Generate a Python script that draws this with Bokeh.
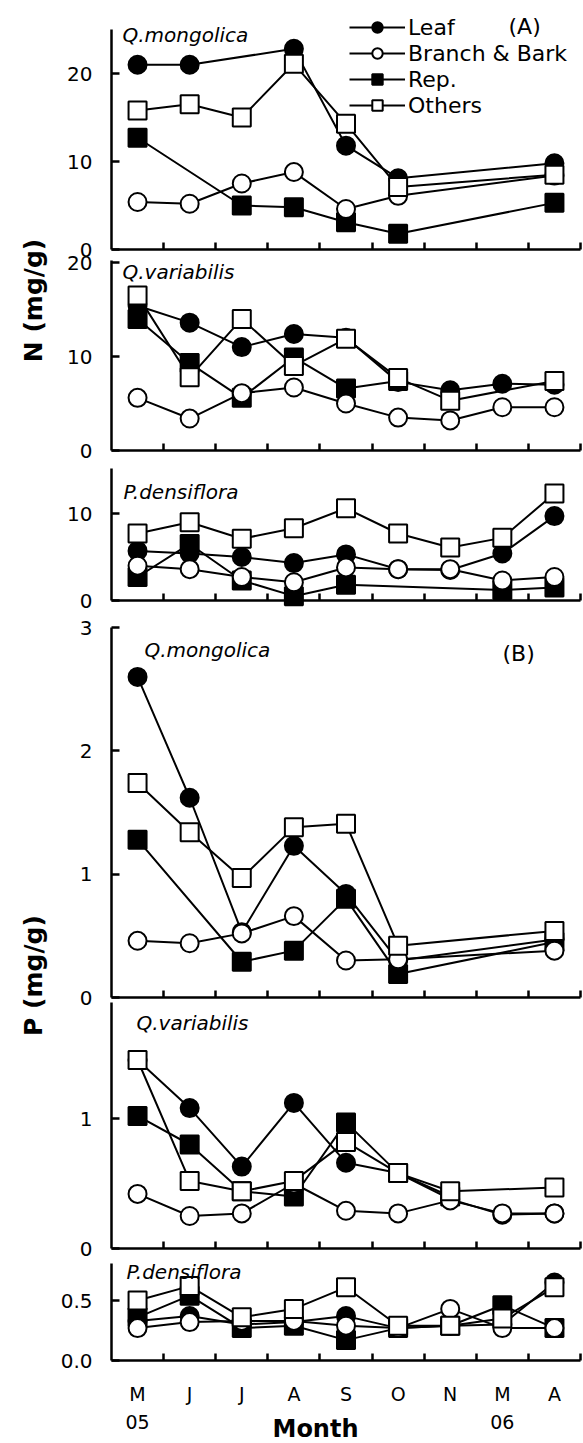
import math
from bokeh.plotting import figure
from bokeh.models import (Range1d, FixedTicker, Label, Legend, LegendItem,
                          NumeralTickFormatter, LinearAxis)
from bokeh.embed import file_html
from bokeh.resources import INLINE

# ---------------- data ----------------
months = ["M", "J", "J", "A", "S", "O", "N", "M", "A"]
years = {0: "05", 7: "06"}
series_names = ["Leaf", "Branch & Bark", "Rep.", "Others"]

# N (mg/g)
n_mong_leaf = [21.0, 21.0, None, 22.8, 11.8, 8.1, None, None, 9.8]
n_mong_branch = [5.4, 5.2, 7.5, 8.8, 4.6, 6.1, None, None, 8.4]
n_mong_rep = [12.7, None, 5.0, 4.8, 3.1, 1.8, None, None, 5.3]
n_mong_others = [15.8, 16.5, 15.0, 21.1, 14.3, 7.1, None, None, 8.5]

n_var_leaf = [15.4, 13.6, 11.0, 12.4, 12.0, 7.3, 6.4, 7.1, 7.0]
n_var_branch = [5.6, 3.4, 6.1, 6.7, 5.0, 3.5, 3.2, 4.6, 4.6]
n_var_rep = [14.0, 9.3, 5.6, 9.9, 6.6, 7.4, None, None, None]
n_var_others = [16.5, 7.8, 14.0, 9.0, 11.9, 7.7, 5.3, None, 7.4]

n_dens_leaf = [5.7, 5.4, 5.0, 4.3, 5.3, 3.6, 3.5, 5.4, 9.7]
n_dens_branch = [4.0, 3.6, 2.7, 2.1, 3.8, 3.6, 3.6, 2.3, 2.7]
n_dens_rep = [2.7, 6.5, 2.3, 0.5, 1.8, None, None, 1.2, 1.5]
n_dens_others = [7.7, 9.0, 7.1, 8.3, 10.6, 7.7, 6.1, 7.2, 12.3]

# P (mg/g)
p_mong_leaf = [2.60, 1.62, 0.53, 1.23, 0.84, 0.30, None, None, 0.47]
p_mong_branch = [0.46, 0.44, 0.52, 0.66, 0.30, 0.31, None, None, 0.38]
p_mong_rep = [1.28, None, 0.29, 0.38, 0.80, 0.19, None, None, 0.45]
p_mong_others = [1.74, 1.34, 0.97, 1.38, 1.41, 0.42, None, None, 0.54]

p_var_leaf = [1.45, 1.08, 0.63, 1.12, 0.66, 0.58, 0.38, 0.26, 0.27]
p_var_branch = [0.42, 0.25, 0.27, 0.50, 0.29, 0.27, 0.37, 0.27, 0.27]
p_var_rep = [1.02, 0.80, 0.44, 0.40, 0.97, 0.58, 0.40, None, None]
p_var_others = [1.45, 0.52, 0.44, 0.52, 0.82, 0.58, 0.44, None, 0.47]

p_dens_leaf = [0.33, 0.37, 0.30, 0.32, 0.37, 0.27, 0.29, 0.30, 0.65]
p_dens_branch = [0.27, 0.32, 0.33, 0.33, 0.29, 0.27, 0.43, 0.27, 0.27]
p_dens_rep = [0.36, 0.54, 0.27, 0.29, 0.17, 0.27, 0.29, 0.46, 0.27]
p_dens_others = [0.50, 0.62, 0.36, 0.43, 0.61, 0.29, 0.29, 0.35, 0.61]

# ---------------- styling / layout ----------------
FONT = "DejaVu Sans"
STYLE = {
    "Leaf": ("circle", "black"),
    "Branch & Bark": ("circle", "white"),
    "Rep.": ("square", "black"),
    "Others": ("square", "white"),
}
DRAW_ORDER = ["Leaf", "Rep.", "Branch & Bark", "Others"]

W, H = 583, 1443
AXIS_PX, RIGHT_PX = 111, 580           # page x of the y axes and of the x-axis end
X0, X1 = -0.5, 8.5
PPX = (RIGHT_PX - AXIS_PX) / (X1 - X0)
bounds_ticks = [i + 0.5 for i in range(len(months))]

# panel placement: zero line pixel, pixels per unit, axis top value
panels = [
    dict(key="A1", name="Q.mongolica", data=[n_mong_leaf, n_mong_branch, n_mong_rep, n_mong_others],
         y0=249, ppu=8.8, bound=25.0, ticks=[0, 10, 20], lab=(122, 22),
         tag=("(A)", 508, 13), legend=True),
    dict(key="A2", name="Q.variabilis", data=[n_var_leaf, n_var_branch, n_var_rep, n_var_others],
         y0=450, ppu=9.4, bound=20.2, ticks=[0, 10, 20], lab=(122, 259)),
    dict(key="A3", name="P.densiflora", data=[n_dens_leaf, n_dens_branch, n_dens_rep, n_dens_others],
         y0=600, ppu=8.7, bound=15.2, ticks=[0, 10], lab=(123, 479)),
    dict(key="B1", name="Q.mongolica", data=[p_mong_leaf, p_mong_branch, p_mong_rep, p_mong_others],
         y0=997, ppu=123.3, bound=3.0, ticks=[0, 1, 2, 3], lab=(144, 637),
         tag=("(B)", 502, 640)),
    dict(key="B2", name="Q.variabilis", data=[p_var_leaf, p_var_branch, p_var_rep, p_var_others],
         y0=1248, ppu=130.0, bound=1.89, ticks=[0, 1], lab=(136, 1010)),
    dict(key="B3", name="P.densiflora", data=[p_dens_leaf, p_dens_branch, p_dens_rep, p_dens_others],
         y0=1360, ppu=120.0, bound=0.81, ticks=[0.0, 0.5], lab=(126, 1259), fmt="0.0",
         bottom=True),
]
by_key = {s["key"]: s for s in panels}


def px_x(px):
    return X0 + (px - AXIS_PX) / PPX


def px_y(key, py):
    s = by_key[key]
    return (s["y0"] - py) / s["ppu"]


def rng(spec):
    return Range1d(start=-(H - spec["y0"]) / spec["ppu"], end=spec["y0"] / spec["ppu"])


p = figure(width=W, height=H, x_range=Range1d(px_x(0), px_x(W)), y_range=rng(panels[-1]),
           toolbar_location=None, output_backend="svg", min_border=0,
           x_axis_type=None, y_axis_type=None,
           outline_line_color=None, background_fill_color="white")
p.grid.visible = False
p.extra_y_ranges = {s["key"]: rng(s) for s in panels}

legend_items = None
for spec in panels:
    key = spec["key"]

    # y axis of the panel
    ya = LinearAxis(y_range_name=key, fixed_location=X0, bounds=(0, spec["bound"]),
                    ticker=FixedTicker(ticks=spec["ticks"], minor_ticks=[]))
    ya.axis_line_width = 2.5
    ya.major_tick_in = 8
    ya.major_tick_out = 0
    ya.major_tick_line_width = 2.5
    ya.minor_tick_line_color = None
    ya.major_label_standoff = 19
    ya.major_label_text_font = FONT
    ya.major_label_text_font_size = "20px"
    ya.major_label_text_color = "black"
    if spec.get("fmt"):
        ya.formatter = NumeralTickFormatter(format=spec["fmt"])
    p.add_layout(ya, "left")

    # x axis of the panel
    if spec.get("bottom"):
        xa = LinearAxis(y_range_name=key, fixed_location=0, bounds=(X0, X1),
                        ticker=FixedTicker(ticks=list(range(len(months))), minor_ticks=bounds_ticks))
        xa.major_label_overrides = {
            i: (m + "\n" + years[i]) if i in years else m for i, m in enumerate(months)
        }
        xa.major_label_standoff = 22
        xa.major_label_text_font = FONT
        xa.major_label_text_font_size = "19px"
        xa.major_label_text_line_height = 1.28
        xa.major_label_text_color = "black"
    else:
        xa = LinearAxis(y_range_name=key, fixed_location=0, bounds=(X0, X1),
                        ticker=FixedTicker(ticks=[], minor_ticks=bounds_ticks))
    xa.axis_line_width = 2.5
    xa.major_tick_in = 0
    xa.major_tick_out = 0
    xa.minor_tick_in = 7
    xa.minor_tick_out = 0
    xa.minor_tick_line_width = 2.5
    p.add_layout(xa, "below")

    # data
    rends = {}
    for name, vals in zip(series_names, spec["data"]):
        xs = [i for i, v in enumerate(vals) if v is not None]
        ys = [v for v in vals if v is not None]
        lr = p.line(xs, ys, line_color="black", line_width=2, y_range_name=key)
        rends[name] = [lr, xs, ys]
    for name in DRAW_ORDER:
        lr, xs, ys = rends[name]
        marker, fill = STYLE[name]
        sr = p.scatter(xs, ys, marker=marker, size=18, fill_color=fill, line_color="black",
                       line_width=2, y_range_name=key)
        rends[name].append(sr)

    # texts inside the panel
    lx_px, ly_px = spec["lab"]
    p.add_layout(Label(x=px_x(lx_px), y=px_y(key, ly_px), y_range_name=key,
                       text=spec["name"], text_font=FONT, text_font_style="italic",
                       text_font_size="20px", text_baseline="top", text_align="left",
                       text_color="black"))
    if spec.get("tag"):
        t, tx_px, ty_px = spec["tag"]
        p.add_layout(Label(x=px_x(tx_px), y=px_y(key, ty_px), y_range_name=key,
                           text=t, text_font=FONT, text_font_size="22px",
                           text_baseline="top", text_align="left", text_color="black"))
    if spec.get("legend"):
        legend_items = [LegendItem(label=n, renderers=[rends[n][0], rends[n][3]])
                        for n in series_names]

# legend (top of panel A1); location = bottom-left corner in frame pixels
leg_top_px, row_h = 14, 26
leg = Legend(items=legend_items, location=(349, H - (leg_top_px + 4 * row_h)),
             padding=0, margin=0, spacing=0, glyph_width=56, glyph_height=row_h,
             label_height=row_h, label_standoff=3, label_text_font=FONT,
             label_text_font_size="22px", label_text_color="black",
             background_fill_alpha=0, border_line_color=None)
p.add_layout(leg)

# shared y-axis titles and x-axis title
for text, key, cy in (("N (mg/g)", "A2", 300), ("P (mg/g)", "B1", 975)):
    p.add_layout(Label(x=px_x(33), y=px_y(key, cy), y_range_name=key, text=text,
                       angle=math.pi / 2, text_align="center", text_baseline="middle",
                       text_font=FONT, text_font_style="bold", text_font_size="25px",
                       text_color="black"))
p.add_layout(Label(x=px_x(315), y=px_y("B3", 1428), y_range_name="B3", text="Month",
                   text_align="center", text_baseline="middle", text_font=FONT,
                   text_font_style="bold", text_font_size="24px", text_color="black"))

open("out.html", "w").write(file_html(p, INLINE))
